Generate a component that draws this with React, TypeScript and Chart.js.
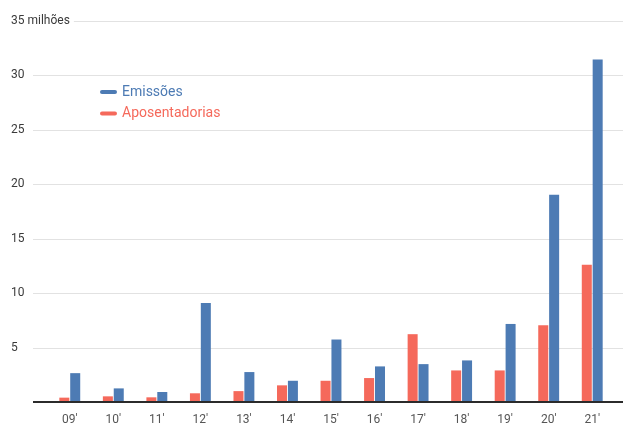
import React, { useEffect, useRef } from "react";
import { Chart, registerables } from "chart.js";

Chart.register(...registerables);

const categories = ["09'", "10'", "11'", "12'", "13'", "14'", "15'", "16'", "17'", "18'", "19'", "20'", "21'"];
const emissoes = [2.65, 1.25, 0.92, 9.1, 2.75, 1.95, 5.74, 3.27, 3.48, 3.82, 7.17, 19.05, 31.47];
const aposentadorias = [0.4, 0.52, 0.43, 0.8, 1.0, 1.53, 1.95, 2.2, 6.23, 2.9, 2.9, 7.05, 12.6];
const yTicks = [0, 5, 10, 15, 20, 25, 30, 35];
const yTickLabels = ["", "5", "10", "15", "20", "25", "30", "35 milhões"];

const BLUE = "#4d7bb4";
const RED = "#f5695b";
const FONT = "Roboto, 'Open Sans', Arial, sans-serif";

const gridPlugin = {
  id: "customGrid",
  beforeDraw(chart: any) {
    const { ctx } = chart;
    const y = chart.scales.y;
    ctx.save();
    for (const v of yTicks) {
      if (v === 0) continue;
      const py = Math.round(y.getPixelForValue(v));
      ctx.strokeStyle = "#e2e2e2";
      ctx.lineWidth = 1;
      ctx.beginPath();
      ctx.moveTo(33, py + 0.5);
      ctx.lineTo(chart.width, py + 0.5);
      ctx.stroke();
    }
    ctx.restore();
  },
  afterDatasetsDraw(chart: any) {
    const { ctx } = chart;
    const y = chart.scales.y;
    const py0 = Math.round(y.getPixelForValue(0));
    ctx.save();
    ctx.strokeStyle = "#2b2b2b";
    ctx.lineWidth = 2;
    ctx.beginPath();
    ctx.moveTo(33, py0);
    ctx.lineTo(chart.width, py0);
    ctx.stroke();

    ctx.font = `12px ${FONT}`;
    ctx.textBaseline = "middle";
    ctx.textAlign = "left";
    yTicks.forEach((v, i) => {
      const label = yTickLabels[i];
      if (!label) return;
      const py = y.getPixelForValue(v);
      const w = ctx.measureText(label).width;
      ctx.fillStyle = "#ffffff";
      ctx.fillRect(9, py - 8, w + 6, 16);
      ctx.fillStyle = "#3a3a3a";
      ctx.fillText(label, 11, py);
    });
    ctx.restore();
  },
};

const legendPlugin = {
  id: "customLegend",
  afterDraw(chart: any) {
    const { ctx } = chart;
    const items = [...chart.data.datasets].reverse();
    ctx.save();
    items.forEach((ds: any, i: number) => {
      const cy = 92 + i * 21.5;
      ctx.strokeStyle = ds.backgroundColor;
      ctx.lineWidth = 4;
      ctx.lineCap = "round";
      ctx.beginPath();
      ctx.moveTo(102, cy);
      ctx.lineTo(115, cy);
      ctx.stroke();
      ctx.fillStyle = ds.backgroundColor;
      ctx.font = `14px ${FONT}`;
      ctx.textBaseline = "middle";
      ctx.textAlign = "left";
      ctx.fillText(ds.label, 122, cy);
    });
    ctx.restore();
  },
};

export default function App() {
  const ref = useRef<HTMLCanvasElement | null>(null);

  useEffect(() => {
    if (!ref.current) return;
    const chart = new Chart(ref.current, {
      type: "bar",
      data: {
        labels: categories,
        datasets: [
          {
            label: "Aposentadorias",
            data: aposentadorias,
            backgroundColor: RED,
            barPercentage: 0.92,
            categoryPercentage: 0.5,
          },
          {
            label: "Emissões",
            data: emissoes,
            backgroundColor: BLUE,
            barPercentage: 0.92,
            categoryPercentage: 0.5,
          },
        ],
      },
      options: {
        responsive: false,
        animation: false,
        devicePixelRatio: 1,
        layout: { padding: { left: 11, right: 9, top: 21, bottom: 0 } },
        plugins: {
          legend: { display: false },
          tooltip: { enabled: false },
        },
        scales: {
          x: {
            offset: true,
            afterFit: (scale: any) => {
              scale.height = 22;
            },
            grid: { display: false, drawTicks: false },
            border: { display: false },
            ticks: {
              padding: 11,
              color: "#555",
              font: { family: FONT, size: 12 },
              maxRotation: 0,
            },
          },
          y: {
            min: 0,
            max: 35,
            afterBuildTicks: (scale: any) => {
              scale.ticks = yTicks.map((v) => ({ value: v }));
            },
            afterFit: (scale: any) => {
              scale.width = 37;
            },
            grid: { display: false, drawTicks: false },
            border: { display: false },
            ticks: { display: false },
          },
        },
      },
      plugins: [gridPlugin, legendPlugin],
    });
    return () => chart.destroy();
  }, []);

  return (
    <div style={{ position: "fixed", left: 0, top: 0, width: 623, height: 424, background: "#fff" }}>
      <canvas ref={ref} width={623} height={424} />
    </div>
  );
}
